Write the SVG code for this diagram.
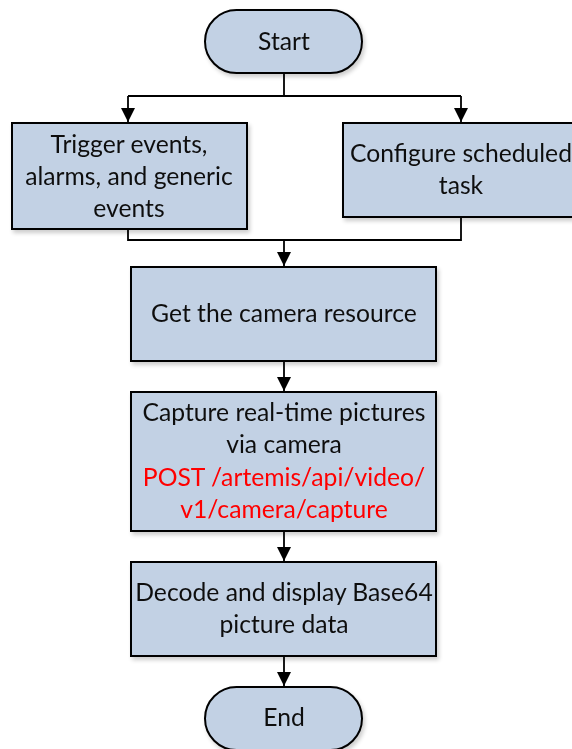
<svg xmlns="http://www.w3.org/2000/svg" width="572" height="749" viewBox="0 0 572 749">
<style>
.n{fill:#C2D1E4;stroke:#000;stroke-width:2}
.t{font-family:Lato,"Open Sans",sans-serif;font-size:24.7px;fill:#111;text-anchor:middle}
.r{fill:#FF0000}
.c{fill:none;stroke:#000;stroke-width:1.8}
</style>
<defs>
<marker id="a" viewBox="0 0 14 14" refX="14" refY="7" markerWidth="14" markerHeight="14" markerUnits="userSpaceOnUse" orient="auto">
<path d="M0,0 L14,7 L0,14 Z" fill="#000"/>
</marker>
<filter id="s" x="-10%" y="-10%" width="130%" height="130%">
<feGaussianBlur in="SourceAlpha" stdDeviation="2"/>
<feOffset dx="2" dy="3"/>
<feComponentTransfer><feFuncA type="linear" slope="0.2"/></feComponentTransfer>
<feMerge><feMergeNode/><feMergeNode in="SourceGraphic"/></feMerge>
</filter>
</defs>
<g id="connectors">
<path class="c" d="M284,73 V96 M128,96 H461"/>
<path class="c" d="M128,96 V122" marker-end="url(#a)"/>
<path class="c" d="M461,96 V122" marker-end="url(#a)"/>
<path class="c" d="M128,229 V240 H461 V217"/>
<path class="c" d="M284,240 V266" marker-end="url(#a)"/>
<path class="c" d="M284,361 V391" marker-end="url(#a)"/>
<path class="c" d="M284,531 V561" marker-end="url(#a)"/>
<path class="c" d="M284,656 V686" marker-end="url(#a)"/>
</g>
<g id="start" filter="url(#s)">
<rect class="n" x="205" y="10" width="157" height="63" rx="31.5"/>
<text class="t" x="284" y="50">Start</text>
</g>
<g id="trigger" filter="url(#s)">
<rect class="n" x="12" y="123" width="235" height="106"/>
<text class="t" x="129" y="153">Trigger events,</text>
<text class="t" x="129" y="185">alarms, and generic</text>
<text class="t" x="129" y="217">events</text>
</g>
<g id="configure" filter="url(#s)">
<rect class="n" x="343" y="123" width="236" height="94"/>
<text class="t" x="461" y="162">Configure scheduled</text>
<text class="t" x="461" y="194">task</text>
</g>
<g id="getcamera" filter="url(#s)">
<rect class="n" x="131" y="267" width="305" height="94"/>
<text class="t" x="284" y="322">Get the camera resource</text>
</g>
<g id="capture" filter="url(#s)">
<rect class="n" x="131" y="392" width="305" height="139"/>
<text class="t" x="284" y="421">Capture real-time pictures</text>
<text class="t" x="284" y="453">via camera</text>
<text class="t r" x="284" y="486">POST /artemis/api/video/</text>
<text class="t r" x="284" y="518">v1/camera/capture</text>
</g>
<g id="decode" filter="url(#s)">
<rect class="n" x="131" y="562" width="305" height="94"/>
<text class="t" x="284" y="601">Decode and display Base64</text>
<text class="t" x="284" y="633">picture data</text>
</g>
<g id="end" filter="url(#s)">
<rect class="n" x="205" y="687" width="157" height="63" rx="31.5"/>
<text class="t" x="284" y="726">End</text>
</g>
</svg>
